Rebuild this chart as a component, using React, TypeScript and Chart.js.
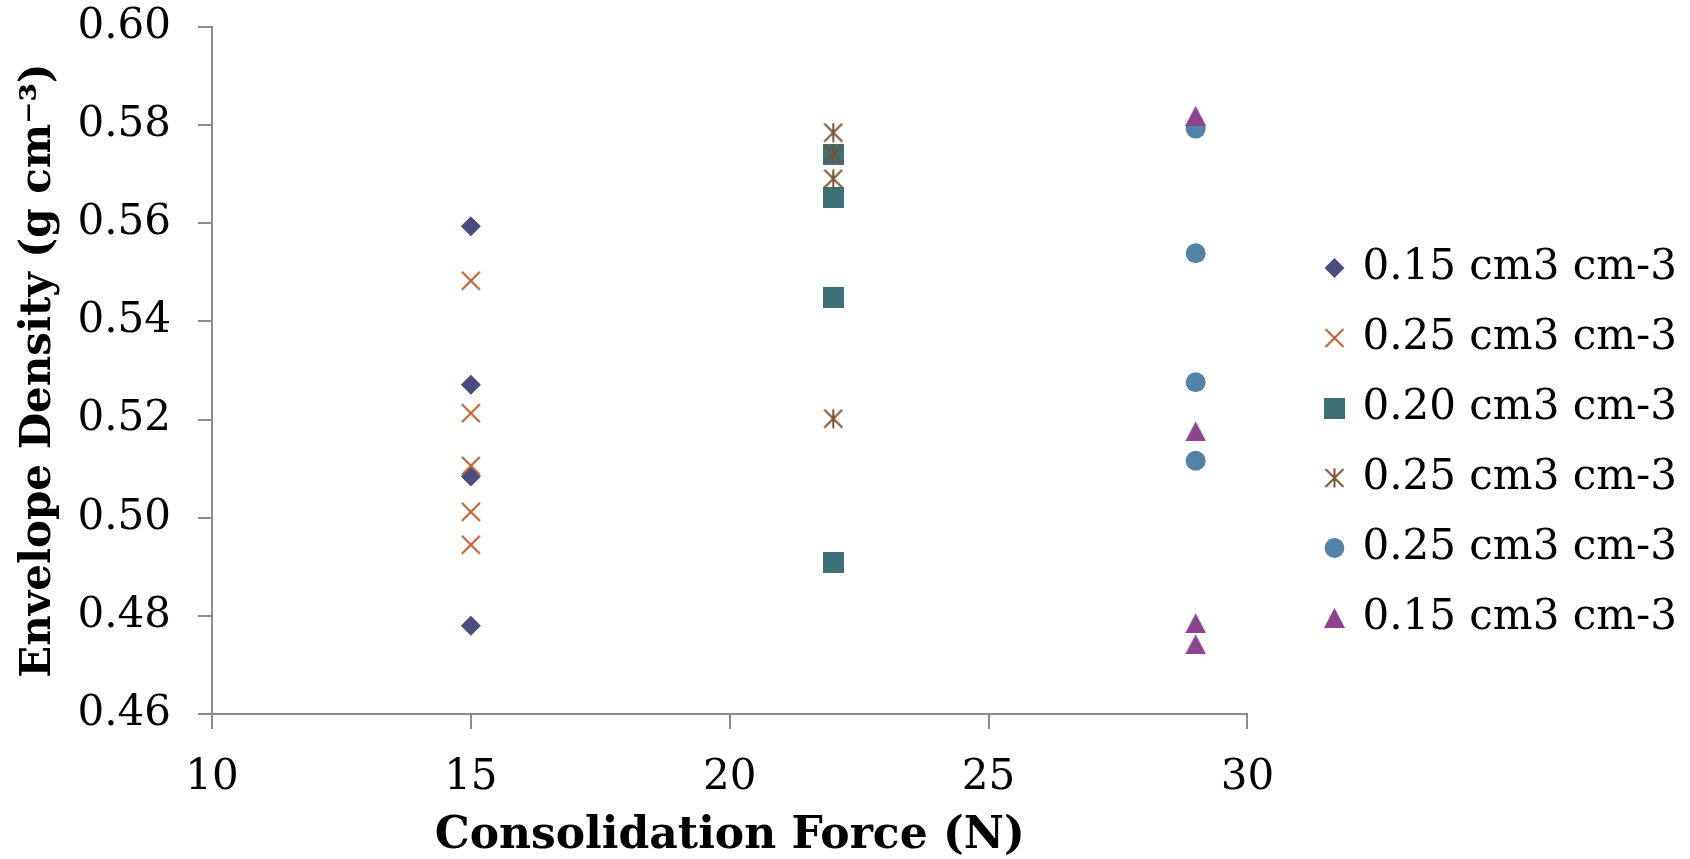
import React, { useEffect, useRef } from 'react';
import { Chart, registerables } from 'chart.js';

Chart.register(...registerables);

// ---- data ----
const seriesLabels = [
  '0.15 cm3 cm-3',
  '0.25 cm3 cm-3',
  '0.20 cm3 cm-3',
  '0.25 cm3 cm-3',
  '0.25 cm3 cm-3',
  '0.15 cm3 cm-3',
];
const seriesForce = [15, 15, 22, 22, 29, 29];
const densityDiamond = [0.5594, 0.5271, 0.5084, 0.478];
const densityCross = [0.5483, 0.5213, 0.5106, 0.5012, 0.4945];
const densitySquare = [0.5741, 0.5653, 0.5449, 0.4909];
const densityStar = [0.5785, 0.5741, 0.5691, 0.5202];
const densityCircle = [0.5793, 0.5539, 0.5276, 0.5116];
const densityTriangle = [0.5819, 0.5176, 0.4785, 0.4742];
const seriesValues = [densityDiamond, densityCross, densitySquare, densityStar, densityCircle, densityTriangle];
const seriesColors = ['#4B4C7E', '#BE5F28', '#3B7074', '#7D5232', '#5083A5', '#8C4390'];

const xMin = 10, xMax = 30, xStep = 5;
const yMin = 0.46, yMax = 0.6, yStep = 0.02;

const FONT = "'DejaVu Serif', 'Liberation Serif', serif";

function makeMarker(kind: string, color: string): HTMLCanvasElement {
  const c = document.createElement('canvas');
  const ctx = c.getContext('2d')!;
  if (kind === 'square') {
    c.width = 21; c.height = 21;
    ctx.fillStyle = color;
    ctx.fillRect(0, 0, 21, 21);
  } else if (kind === 'triangle') {
    c.width = 21; c.height = 20;
    ctx.fillStyle = color;
    ctx.beginPath();
    ctx.moveTo(10.5, 0);
    ctx.lineTo(21, 20);
    ctx.lineTo(0, 20);
    ctx.closePath();
    ctx.fill();
  } else if (kind === 'cross' || kind === 'star') {
    c.width = 20; c.height = 20;
    ctx.strokeStyle = color;
    ctx.lineWidth = 2;
    ctx.beginPath();
    ctx.moveTo(1, 1); ctx.lineTo(19, 19);
    ctx.moveTo(19, 1); ctx.lineTo(1, 19);
    if (kind === 'star') {
      ctx.moveTo(10, 0.5); ctx.lineTo(10, 19.5);
    }
    ctx.stroke();
  }
  return c;
}

export default function App() {
  const ref = useRef<HTMLCanvasElement>(null);
  useEffect(() => {
    if (!ref.current) return;
    const styles: any[] = [
      'rectRot',
      makeMarker('cross', seriesColors[1]),
      makeMarker('square', seriesColors[2]),
      makeMarker('star', seriesColors[3]),
      'circle',
      makeMarker('triangle', seriesColors[5]),
    ];
    const datasets = seriesLabels.map((label, i) => ({
      label,
      data: seriesValues[i].map((v) => ({ x: seriesForce[i], y: v })),
      pointStyle: styles[i],
      pointRadius: 10,
      pointHoverRadius: 10,
      pointBorderWidth: 0,
      borderWidth: 0,
      backgroundColor: seriesColors[i],
      borderColor: seriesColors[i],
      showLine: false,
      order: seriesLabels.length - i,
    }));
    const axisColor = '#8C8C8C';
    const chart = new Chart(ref.current, {
      type: 'scatter',
      data: { datasets },
      options: {
        animation: false,
        responsive: true,
        maintainAspectRatio: false,
        layout: { padding: { top: 27, left: 0, right: 3, bottom: 0 } },
        plugins: {
          tooltip: { enabled: false },
          legend: {
            position: 'right',
            align: 'center',
            maxWidth: 420,
            labels: {
              usePointStyle: true,
              boxWidth: 14,
              boxHeight: 14,
              padding: 28,
              color: '#000',
              font: { family: FONT, size: 42 },
              sort: (a: any, b: any) => a.datasetIndex - b.datasetIndex,
            },
          },
        },
        scales: {
          x: {
            type: 'linear',
            min: xMin,
            max: xMax,
            ticks: {
              stepSize: xStep,
              color: '#000',
              font: { family: FONT, size: 42 },
              padding: 24,
            },
            grid: { drawOnChartArea: false, drawTicks: true, tickLength: 15, color: axisColor, lineWidth: 2 },
            border: { display: true, color: axisColor, width: 2 },
            title: {
              display: true,
              text: 'Consolidation Force (N)',
              color: '#000',
              font: { family: FONT, size: 44, weight: 'bold' },
              padding: { top: 0, bottom: -4 },
            },
            afterFit: (s: any) => { s.height = 145; },
          },
          y: {
            type: 'linear',
            min: yMin,
            max: yMax,
            ticks: {
              stepSize: yStep,
              color: '#000',
              font: { family: FONT, size: 42 },
              padding: 27,
              callback: (v: any) => Number(v).toFixed(2),
            },
            grid: { drawOnChartArea: false, drawTicks: true, tickLength: 14, color: axisColor, lineWidth: 2 },
            border: { display: true, color: axisColor, width: 2 },
            title: {
              display: true,
              text: 'Envelope Density (g cm\u207B\u00B3)',
              color: '#000',
              font: { family: FONT, size: 42, weight: 'bold' },
              padding: { top: 14, bottom: 0 },
            },
            afterFit: (s: any) => {
              s.width = 212;
              s.paddingTop = 0;
              s.paddingBottom = 0;
            },
          },
          gap: {
            type: 'linear',
            position: 'right',
            display: true,
            grid: { display: false },
            border: { display: false },
            ticks: { display: false },
            afterFit: (s: any) => { s.width = 52; },
          },
        },
      } as any,
    });
    return () => chart.destroy();
  }, []);
  return (
    <div style={{ position: 'absolute', left: 0, top: 0, width: 1690, height: 859 }}>
      <canvas ref={ref} />
    </div>
  );
}
